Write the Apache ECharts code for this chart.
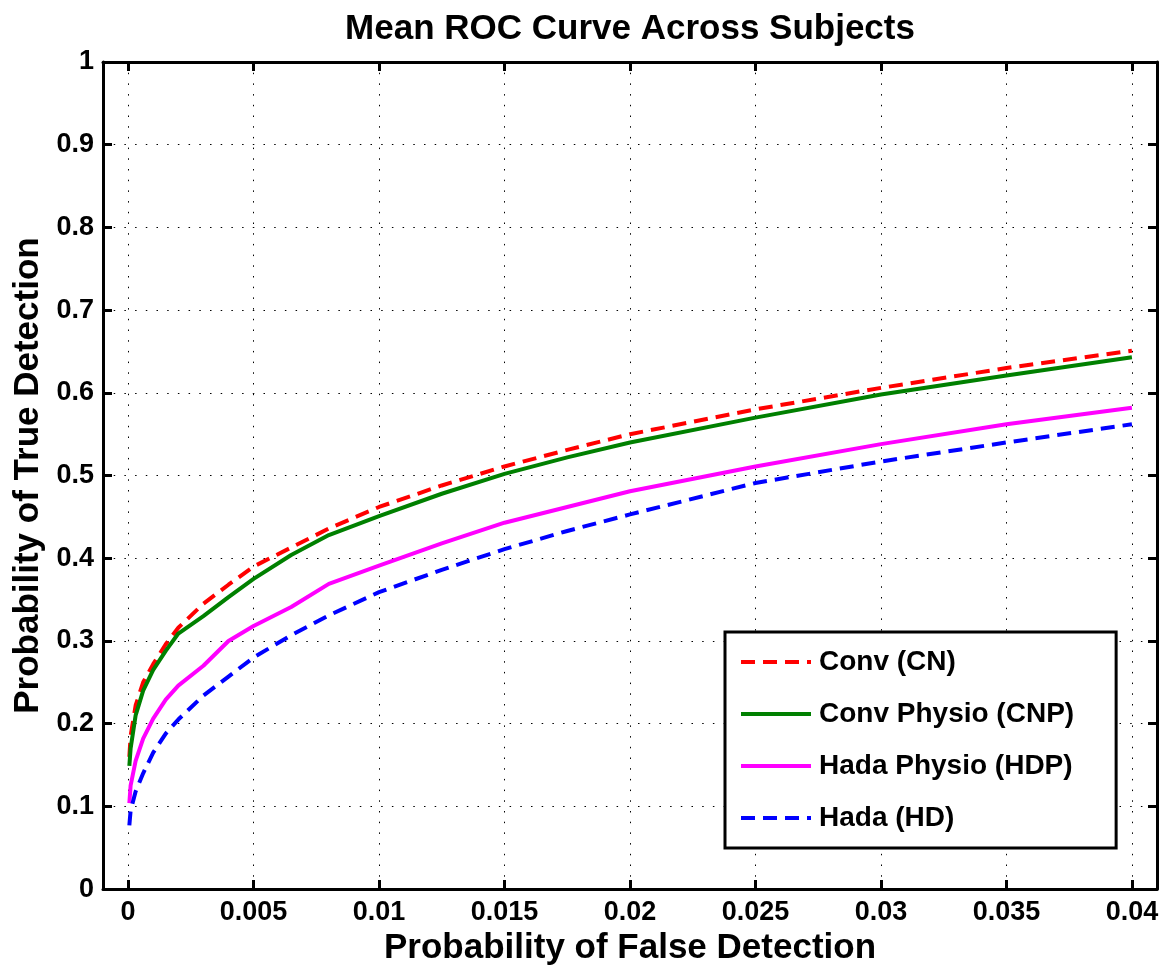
<!DOCTYPE html>
<html>
<head>
<meta charset="utf-8">
<script src="https://cdn.jsdelivr.net/npm/echarts@6/dist/echarts.min.js"></script>
<style>
html,body{margin:0;padding:0;background:#fff;}
#chart{width:1172px;height:971px;}
</style>
</head>
<body>
<div id="chart"></div>
<script>
// ---- data ----
const falseDet = [0.00005, 0.0001, 0.0003, 0.0006, 0.001, 0.0015, 0.002, 0.003, 0.004, 0.005, 0.0065, 0.008, 0.01, 0.0125, 0.015, 0.0175, 0.02, 0.025, 0.03, 0.035, 0.04];
const convCN   = [0.160, 0.185, 0.222, 0.250, 0.272, 0.296, 0.316, 0.345, 0.368, 0.390, 0.413, 0.436, 0.462, 0.488, 0.511, 0.531, 0.550, 0.580, 0.606, 0.630, 0.651];
const convCNP  = [0.149, 0.170, 0.210, 0.240, 0.265, 0.288, 0.309, 0.330, 0.353, 0.375, 0.404, 0.428, 0.451, 0.478, 0.502, 0.522, 0.540, 0.570, 0.598, 0.621, 0.643];
const hadaHDP  = [0.104, 0.125, 0.155, 0.182, 0.206, 0.229, 0.246, 0.270, 0.300, 0.318, 0.341, 0.369, 0.391, 0.418, 0.443, 0.462, 0.481, 0.511, 0.538, 0.562, 0.582];
const hadaHD   = [0.077, 0.095, 0.118, 0.140, 0.165, 0.188, 0.205, 0.234, 0.257, 0.280, 0.307, 0.331, 0.359, 0.386, 0.411, 0.433, 0.453, 0.491, 0.517, 0.540, 0.562];
const seriesNames = ['Conv (CN)', 'Conv Physio (CNP)', 'Hada Physio (HDP)', 'Hada (HD)'];
const xTicks = [0, 0.005, 0.01, 0.015, 0.02, 0.025, 0.03, 0.035, 0.04];
const xTickLabels = ['0', '0.005', '0.01', '0.015', '0.02', '0.025', '0.03', '0.035', '0.04'];
const titleText = 'Mean ROC Curve Across Subjects';
const xName = 'Probability of False Detection';
const yName = 'Probability of True Detection';

const FONT = "'Liberation Sans', Arial, Helvetica, sans-serif";
function pairs(ys) { return falseDet.map((x, i) => [x, ys[i]]); }

const chart = echarts.init(document.getElementById('chart'), null, {renderer: 'canvas'});
const gridLine = {show: true, lineStyle: {color: '#000', width: 1, type: [1.5, 9.2]}};
const axisLineStyle = {show: true, onZero: false, lineStyle: {color: '#000', width: 3}};
const tickStyle = {show: true, inside: true, length: 9, lineStyle: {color: '#000', width: 3}};

function line(name, data, color, dashed) {
  return {
    name: name, type: 'line', data: data, showSymbol: false, symbol: 'none',
    smooth: false, animation: false, xAxisIndex: 0, yAxisIndex: 0,
    lineStyle: {color: color, width: 4, type: dashed ? [14, 8] : 'solid'},
    itemStyle: {color: color}
  };
}

chart.setOption({
  animation: false,
  backgroundColor: '#fff',
  grid: {left: 103, right: 15, top: 62, bottom: 78, containLabel: false},
  graphic: [{
    type: 'text', x: 630, y: 29,
    style: {text: titleText, textAlign: 'center', textVerticalAlign: 'middle', fill: '#000', font: 'bold 35px ' + FONT}
  }],
  legend: {
    orient: 'vertical', left: 725, top: 632,
    data: seriesNames,
    itemWidth: 70, itemHeight: 14, itemGap: 24,
    padding: [16, 42, 16, 14],
    borderColor: '#000', borderWidth: 3, backgroundColor: '#fff',
    itemStyle: {opacity: 0},
    lineStyle: {width: 4},
    textStyle: {fontSize: 28, fontWeight: 'bold', color: '#000', fontFamily: FONT, padding: [0, 0, 0, 3]}
  },
  xAxis: [{
    type: 'value', min: -0.001, max: 0.041, position: 'bottom',
    name: xName, nameLocation: 'middle', nameGap: 38,
    nameTextStyle: {fontSize: 35, fontWeight: 'bold', color: '#000', fontFamily: FONT},
    axisLine: axisLineStyle,
    axisTick: Object.assign({customValues: xTicks}, tickStyle),
    axisLabel: {customValues: xTicks, formatter: v => xTickLabels[xTicks.indexOf(v)] !== undefined ? xTickLabels[xTicks.indexOf(v)] : String(v), margin: 10, fontSize: 27, fontWeight: 'bold', color: '#000', fontFamily: FONT},
    splitLine: gridLine
  }, {
    type: 'value', min: -0.001, max: 0.041, position: 'top',
    axisLine: axisLineStyle,
    axisTick: Object.assign({customValues: xTicks}, tickStyle),
    axisLabel: {show: false},
    splitLine: {show: false}
  }],
  yAxis: [{
    type: 'value', min: 0, max: 1, interval: 0.1, position: 'left',
    name: yName, nameLocation: 'middle', nameGap: 56,
    nameTextStyle: {fontSize: 35, fontWeight: 'bold', color: '#000', fontFamily: FONT},
    axisLine: axisLineStyle, axisTick: tickStyle,
    axisLabel: {margin: 9, fontSize: 27, fontWeight: 'bold', color: '#000', fontFamily: FONT},
    splitLine: gridLine
  }, {
    type: 'value', min: 0, max: 1, interval: 0.1, position: 'right',
    axisLine: axisLineStyle, axisTick: tickStyle,
    axisLabel: {show: false}, splitLine: {show: false}
  }],
  series: [
    line(seriesNames[0], pairs(convCN), '#ff0000', true),
    line(seriesNames[1], pairs(convCNP), '#008000', false),
    line(seriesNames[2], pairs(hadaHDP), '#ff00ff', false),
    line(seriesNames[3], pairs(hadaHD), '#0000ff', true)
  ]
});
</script>
</body>
</html>
